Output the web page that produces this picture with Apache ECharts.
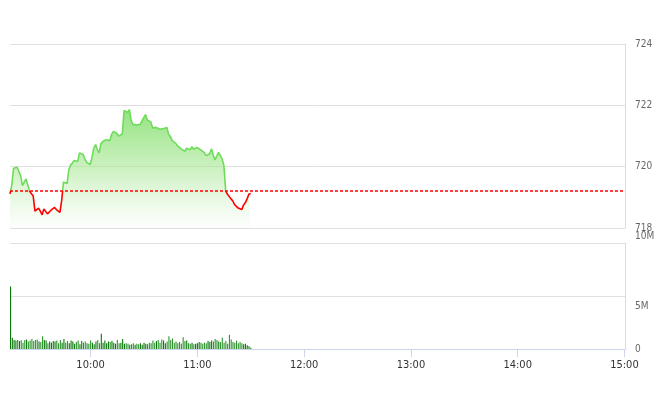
<!DOCTYPE html>
<html><head><meta charset="utf-8">
<script src="https://cdn.jsdelivr.net/npm/echarts@6/dist/echarts.min.js"></script>
<style>html,body{margin:0;padding:0;background:#fff}#c{width:660px;height:412px}</style>
</head><body><div id="c"></div>
<script>
// Session: one point per minute starting at 09:15
const sessionDay = [2024, 0, 2];
const firstMinute = [9, 15];
const axisStartTime = [9, 15];
const axisEndTime = [15, 0];
const refPrice = 719.22;
const priceTicks = [718, 720, 722, 724];
const volumeTickLabels = { 0: '0', 5: '5M', 10: '10M' };

const prices = [
  719.11, 719.40, 719.95, 720.00, 719.98, 720.00, 719.70, 719.38, 719.35, 719.60,
  719.40, 719.20, 719.12, 719.05, 718.55, 718.50, 718.65, 718.55, 718.43, 718.62,
  718.68, 718.46, 718.52, 718.58, 718.63, 718.67, 718.60, 718.57, 718.51, 718.90,
  719.50, 719.48, 719.45, 719.90, 720.05, 720.12, 720.20, 720.18, 720.17, 720.45,
  720.48, 720.40, 720.25, 720.14, 720.10, 720.07, 720.30, 720.60, 720.72, 720.55,
  720.45, 720.75, 720.82, 720.85, 720.88, 720.90, 720.85, 721.05, 721.15, 721.20,
  721.08, 721.00, 721.05, 721.07, 721.83, 721.78, 721.77, 721.86, 721.50, 721.38,
  721.39, 721.36, 721.34, 721.38, 721.42, 721.60, 721.70, 721.52, 721.50, 721.46,
  721.26, 721.25, 721.28, 721.27, 721.22, 721.16, 721.24, 721.30, 721.28, 721.05,
  720.98, 720.85, 720.80, 720.76, 720.68, 720.62, 720.58, 720.52, 720.50, 720.60,
  720.58, 720.55, 720.65, 720.57, 720.60, 720.63, 720.65, 720.55, 720.50, 720.46,
  720.36, 720.38, 720.42, 720.58, 720.38, 720.22, 720.18, 720.47, 720.36, 720.25,
  720.03, 719.20, 719.10, 719.05, 718.95, 718.88, 718.76, 718.70, 718.65, 718.62,
  718.60, 718.75, 718.82, 718.95, 719.10, 719.13
];

// Volume in millions of shares
const volumes = [
  5.9, 1.05, 0.85, 0.8, 0.85, 0.75, 0.82, 0.6, 0.85, 0.9,
  0.7, 0.8, 0.95, 0.75, 0.85, 0.9, 0.7, 0.65, 1.2, 0.85,
  0.8, 0.55, 0.7, 0.6, 0.75, 0.7, 0.8, 0.55, 0.85, 0.6,
  0.95, 0.6, 0.75, 0.55, 0.8, 0.7, 0.5, 0.65, 0.8, 0.45,
  0.75, 0.6, 0.7, 0.55, 0.5, 0.8, 0.6, 0.45, 0.7, 0.85,
  0.55, 1.45, 0.6, 0.8, 0.55, 0.7, 0.65, 0.75, 0.6, 0.5,
  0.85, 0.55, 0.6, 0.95, 0.5, 0.55, 0.5, 0.4, 0.45, 0.55,
  0.4, 0.5, 0.45, 0.55, 0.4, 0.6, 0.5, 0.45, 0.6, 0.55,
  0.8, 0.6, 0.75, 0.85, 0.6, 0.9, 0.8, 0.55, 0.7, 1.2,
  0.85, 1.0, 0.6, 0.7, 0.55, 0.65, 0.5, 1.1, 0.75, 0.8,
  0.55, 0.5, 0.6, 0.45, 0.5, 0.55, 0.65, 0.6, 0.5, 0.6,
  0.55, 0.75, 0.65, 0.8, 0.7, 0.95, 0.85, 0.7, 0.65, 1.05,
  0.6, 0.75, 0.5, 1.35, 0.9, 0.65, 0.6, 0.8, 0.55, 0.65,
  0.55, 0.45, 0.5, 0.35, 0.25, 0.12
];

function minuteTime(i) {
  return new Date(sessionDay[0], sessionDay[1], sessionDay[2], firstMinute[0], firstMinute[1] + i).getTime();
}
const tMin = new Date(sessionDay[0], sessionDay[1], sessionDay[2], axisStartTime[0], axisStartTime[1]).getTime();
const tMax = new Date(sessionDay[0], sessionDay[1], sessionDay[2], axisEndTime[0], axisEndTime[1]).getTime();

const priceData = prices.map((p, i) => [minuteTime(i), p]);
const volumeData = volumes.map((v, i) => [minuteTime(i), v]);

const UP_COLOR = '#6edc5a';
const DOWN_COLOR = '#ff0000';
const FONT = '"Liberation Sans Narrow", "DejaVu Sans Condensed", Roboto, sans-serif';
const chart = echarts.init(document.getElementById('c'), null, { renderer: 'canvas' });

chart.setOption({
  animation: false,
  backgroundColor: '#ffffff',
  grid: [
    { left: 10, right: 35, top: 44, height: 184 },
    { left: 10, right: 35, top: 243, height: 106 }
  ],
  xAxis: [
    { type: 'time', gridIndex: 0, min: tMin, max: tMax, show: false },
    {
      type: 'time', gridIndex: 1, min: tMin, max: tMax,
      minInterval: 3600 * 1000, maxInterval: 3600 * 1000,
      axisLine: { show: true, lineStyle: { color: '#ccd6eb', width: 1 } },
      axisTick: { show: true, length: 8, lineStyle: { color: '#ccd6eb' } },
      axisLabel: {
        formatter: '{HH}:{mm}', color: '#333', fontSize: 11, fontFamily: FONT,
        margin: 11, showMinLabel: false, hideOverlap: false
      },
      splitLine: { show: false }
    }
  ],
  yAxis: [
    {
      type: 'value', gridIndex: 0, position: 'right',
      min: priceTicks[0], max: priceTicks[priceTicks.length - 1], interval: 2,
      axisLine: { show: true, lineStyle: { color: '#dcdcdc' } },
      axisTick: { show: false },
      splitLine: { lineStyle: { color: '#e0e0e0', width: 1 } },
      axisLabel: { color: '#666', fontSize: 10, fontFamily: FONT, margin: 10 }
    },
    {
      type: 'value', gridIndex: 1, position: 'right',
      min: 0, max: 10, interval: 5,
      axisLine: { show: true, lineStyle: { color: '#dcdcdc' } },
      axisTick: { show: false },
      splitLine: { lineStyle: { color: '#e0e0e0', width: 1 } },
      axisLabel: {
        color: '#666', fontSize: 10, fontFamily: FONT, margin: 10,
        formatter: v => {
          const t = volumeTickLabels[v];
          if (v === 10) return '{up|' + t + '}';
          if (v === 5) return '{down|' + t + '}';
          return t;
        },
        rich: {
          up: { color: '#666', fontSize: 10, fontFamily: FONT, padding: [0, 0, 14, 0] },
          down: { color: '#666', fontSize: 10, fontFamily: FONT, padding: [20, 0, 0, 0] }
        }
      }
    }
  ],
  series: [
    {
      type: 'line',
      xAxisIndex: 0, yAxisIndex: 0,
      data: priceData,
      showSymbol: false,
      symbol: 'none',
      lineStyle: { width: 1.6, color: UP_COLOR },
      areaStyle: {
        opacity: 1,
        color: new echarts.graphic.LinearGradient(0, 0, 0, 1, [
          { offset: 0, color: 'rgba(140, 225, 120, 0.95)' },
          { offset: 0.5, color: 'rgba(170, 232, 150, 0.6)' },
          { offset: 1, color: 'rgba(200, 240, 190, 0.05)' }
        ])
      },
      markLine: {
        silent: true,
        symbol: 'none',
        label: { show: false },
        lineStyle: { color: DOWN_COLOR, type: [3, 2], width: 1.5 },
        data: [{ yAxis: refPrice }]
      },
      z: 3
    },
    {
      type: 'bar',
      xAxisIndex: 1, yAxisIndex: 1,
      data: volumeData,
      barWidth: 1.1,
      itemStyle: {
        color: p => (p.dataIndex === 0 || prices[p.dataIndex] >= prices[p.dataIndex - 1]) ? '#0a780a' : '#2f932f'
      }
    }
  ]
});

// Split the line colour exactly at the reference price (pixel position from the axis)
const refY = chart.convertToPixel({ yAxisIndex: 0 }, refPrice);
const gridTop = chart.convertToPixel({ yAxisIndex: 0 }, priceTicks[priceTicks.length - 1]);
const gridBottom = chart.convertToPixel({ yAxisIndex: 0 }, priceTicks[0]);
const off = (refY - gridTop) / (gridBottom - gridTop);
chart.setOption({
  series: [{
    lineStyle: {
      color: new echarts.graphic.LinearGradient(0, gridTop, 0, gridBottom, [
        { offset: 0, color: UP_COLOR },
        { offset: off, color: UP_COLOR },
        { offset: off, color: DOWN_COLOR },
        { offset: 1, color: DOWN_COLOR }
      ], true)
    }
  }]
});
</script>
</body></html>
